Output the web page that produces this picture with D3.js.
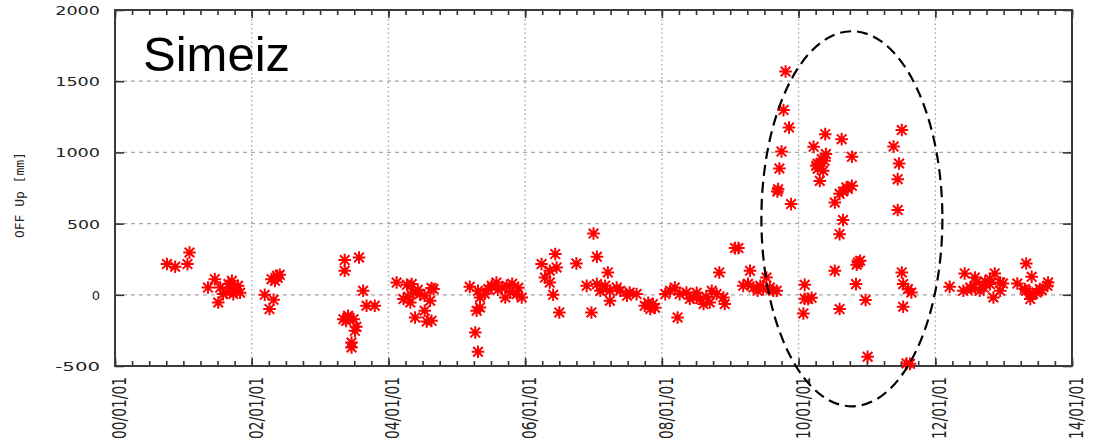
<!DOCTYPE html>
<html>
<head>
<meta charset="utf-8">
<script src="https://cdn.jsdelivr.net/npm/d3@7"></script>
<style>
  body { margin: 0; background: #fff; }
  svg { display: block; }
  .tick-label { font-family: "DejaVu Sans", sans-serif; fill: #222; }
</style>
</head>
<body>
<div class="viz"></div>
<script>
var margin = { top: 10, right: 23, bottom: 81, left: 115 },
    totalWidth = 1095,
    totalHeight = 447,
    width = totalWidth - margin.left - margin.right,
    height = totalHeight - margin.top - margin.bottom;

// epoch of each solution, in decimal years
const epochs = [
    2000.76, 2000.88, 2001.06, 2001.09, 2001.46, 2001.36, 2001.54, 2001.66, 2001.71, 2001.78,
    2001.63, 2001.73, 2001.58, 2001.80, 2001.51, 2001.71, 2001.83,
    2002.19, 2002.32, 2002.26, 2002.29, 2002.37, 2002.41, 2002.34, 2002.38,
    2003.36, 2003.36, 2003.57, 2003.63, 2003.68, 2003.80, 2003.41, 2003.49, 2003.34, 2003.51,
    2003.46, 2003.46, 2003.41, 2003.38, 2003.53,
    2004.12, 2004.27, 2004.34, 2004.22, 2004.32, 2004.36, 2004.46, 2004.53, 2004.63, 2004.61,
    2004.53, 2004.39, 2004.56, 2004.66, 2004.63, 2004.29, 2004.43,
    2005.19, 2005.31, 2005.46, 2005.34, 2005.34, 2005.29, 2005.58, 2005.66, 2005.73, 2005.78,
    2005.88, 2005.95, 2005.71, 2005.27, 2005.31, 2005.41, 2005.51, 2005.81, 2005.60, 2005.90,
    2006.24, 2006.44, 2006.46, 2006.36, 2006.29, 2006.36, 2006.41, 2006.50, 2006.75, 2007.00,
    2007.05, 2007.21, 2006.90, 2007.05, 2007.14, 2007.24, 2007.34, 2007.24, 2006.97, 2007.53,
    2007.49, 2007.63, 2007.17, 2007.39, 2007.10, 2007.75, 2007.83, 2007.87, 2007.80, 2007.90,
    2008.05, 2008.19, 2008.26, 2008.36, 2008.46, 2008.56, 2008.61, 2008.70, 2008.73, 2008.80,
    2008.90, 2008.92, 2008.84, 2008.23, 2008.12, 2008.41, 2008.65, 2008.51,
    2009.07, 2009.12, 2009.19, 2009.29, 2009.34, 2009.44, 2009.53, 2009.58, 2009.68, 2009.48,
    2009.63, 2009.26, 2009.40,
    2009.81, 2009.78, 2009.86, 2009.75, 2009.72, 2009.70, 2009.69, 2009.89,
    2010.09, 2010.14, 2010.07, 2010.09, 2010.19,
    2010.39, 2010.63, 2010.22, 2010.40, 2010.34, 2010.26, 2010.36, 2010.31, 2010.28, 2010.38,
    2010.28, 2010.78, 2010.70, 2010.65, 2010.78, 2010.72, 2010.60, 2010.53, 2010.65, 2010.60,
    2011.51, 2011.39, 2011.47, 2011.45, 2011.45,
    2010.53, 2010.87, 2010.90, 2010.85, 2010.84, 2010.98, 2010.60, 2011.01,
    2011.51, 2011.53, 2011.60, 2011.65, 2011.53, 2011.58, 2011.63,
    2012.21, 2012.43, 2012.41, 2012.51, 2012.58, 2012.65, 2012.60, 2012.73, 2012.80, 2012.87,
    2012.95, 2012.95, 2012.85, 2012.53, 2012.71, 2012.80, 2012.99,
    2013.20, 2013.33, 2013.41, 2013.31, 2013.39, 2013.48, 2013.56, 2013.65, 2013.39, 2013.43,
    2013.33, 2013.53, 2013.64,
];

// OFF Up [mm], same order as epochs
const offUp = [
    216, 197, 216, 297, 110, 51, 51, 75, 51, 28,
    16, 5, 5, 63, -54, 98, 14,
    0, -35, -100, 110, 133, 140, 98, 119,
    244, 169, 262, 28, -77, -77, -147, -171, -171, -253,
    -335, -370, -159, -183, -225,
    86, 70, 75, -30, -54, 16, 5, -7, 47, -42,
    -112, -159, -187, 40, -183, -14, 35,
    56, 28, 40, -19, -89, -112, 86, 51, 63, 16,
    5, -19, -19, -265, -400, 7, 63, 77, 35, 49,
    216, 286, 192, 169, 121, 86, 0, -124, 220, 430,
    267, 157, 63, 75, 40, 28, 51, -42, -124, 16,
    -7, 5, 63, 28, 28, -77, -100, -65, -56, -91,
    5, 51, 5, 16, -19, -30, -65, -54, 28, 5,
    -19, -65, 157, -159, 28, -28, -14, 14,
    328, 328, 63, 169, 51, 63, 121, 51, 28, 40,
    28, 77, 28,
    1568, 1297, 1175, 1006, 887, 742, 725, 637,
    70, -30, -131, -28, -21,
    1128, 1093, 1039, 988, 953, 906, 871, 800, 920, 941,
    885, 969, 753, 725, 765, 744, 709, 648, 525, 426,
    1157, 1041, 922, 812, 595,
    169, 227, 239, 211, 75, -37, -100, -435,
    157, 75, 40, 16, -84, -482, -485,
    56, 150, 28, 51, 121, 28, 86, 93, 110, 150,
    86, 28, -19, 40, 51, 75, 79,
    79, 220, 126, 40, 5, 16, 33, 86, -30, 5,
    28, 40, 63,
];

const xDomain = [2000, 2014];
const yDomain = [-500, 2000];
const xTickYears = [2000, 2002, 2004, 2006, 2008, 2010, 2012, 2014];
const xTickLabels = ["00/01/01", "02/01/01", "04/01/01", "06/01/01", "08/01/01", "10/01/01", "12/01/01", "14/01/01"];
const yTickValues = [-500, 0, 500, 1000, 1500, 2000];

// dashed ellipse around the anomaly (centre epoch, centre value, half widths)
const anomaly = { epoch: 2010.78, value: 534, halfYears: 1.324, halfMm: 1317 };

var x = d3.scaleLinear().domain(xDomain).range([0, width]);
var y = d3.scaleLinear().domain(yDomain).range([height, 0]);

var svg = d3
    .select(".viz")
    .append("svg")
    .attr("width", totalWidth)
    .attr("height", totalHeight);

var g = svg.append("g").attr("transform", `translate(${margin.left},${margin.top})`);

/**
 * Grid
 */
g.append("g")
    .selectAll("line")
    .data(yTickValues.slice(1, -1))
    .enter()
    .append("line")
    .attr("x1", 0)
    .attr("x2", width)
    .attr("y1", (d) => y(d))
    .attr("y2", (d) => y(d))
    .attr("stroke", "#a8a8a8")
    .attr("stroke-width", 1.2)
    .attr("stroke-dasharray", "4,4");

g.append("g")
    .selectAll("line")
    .data(xTickYears.slice(1, -1))
    .enter()
    .append("line")
    .attr("x1", (d) => x(d))
    .attr("x2", (d) => x(d))
    .attr("y1", 0)
    .attr("y2", height)
    .attr("stroke", "#a8a8a8")
    .attr("stroke-width", 1.4)
    .attr("stroke-dasharray", "1.5,3");

/**
 * Axes, ticks on all four sides
 */
var minorYears = d3.range(xDomain[0], xDomain[1] + 0.001, 0.25);

var bottom = d3.axisBottom(x).tickValues(minorYears).tickSize(-5).tickFormat("");
var top_ = d3.axisTop(x).tickValues(minorYears).tickSize(-5).tickFormat("");
g.append("g").attr("transform", `translate(0,${height})`).call(bottom);
g.append("g").call(top_);

var bottomMajor = d3.axisBottom(x).tickValues(xTickYears).tickSize(-8).tickFormat("");
var topMajor = d3.axisTop(x).tickValues(xTickYears).tickSize(-8).tickFormat("");
g.append("g").attr("transform", `translate(0,${height})`).call(bottomMajor);
g.append("g").call(topMajor);

var left = d3.axisLeft(y).tickValues(yTickValues).tickSize(-9).tickFormat("");
var right = d3.axisRight(y).tickValues(yTickValues).tickSize(-9).tickFormat("");
g.append("g").call(left);
g.append("g").attr("transform", `translate(${width},0)`).call(right);

g.selectAll(".domain").remove();
g.selectAll(".tick line").attr("stroke", "#333").attr("stroke-width", 1.6);

g.append("rect")
    .attr("width", width)
    .attr("height", height)
    .attr("fill", "none")
    .attr("stroke", "#3a3a3a")
    .attr("stroke-width", 2);

/**
 * Tick labels
 */
g.append("g")
    .selectAll("text")
    .data(yTickValues)
    .enter()
    .append("text")
    .attr("class", "tick-label")
    .attr("x", -15)
    .attr("y", (d) => y(d) + 5)
    .attr("text-anchor", "end")
    .style("font-size", "13px")
    .each(function (d) {
        var s = String(d);
        var t = d3.select(this).text(s);
        if (s.length > 1) t.attr("textLength", s.length * 11.7 - 2).attr("lengthAdjust", "spacingAndGlyphs");
    });

g.append("g")
    .selectAll("text")
    .data(xTickYears)
    .enter()
    .append("text")
    .attr("class", "tick-label")
    .attr("transform", (d) => `translate(${x(d) + 11},${height + 11}) rotate(-90)`)
    .attr("text-anchor", "end")
    .style("font-size", "20px")
    .attr("textLength", 62)
    .attr("lengthAdjust", "spacingAndGlyphs")
    .text((d, i) => xTickLabels[i]);

svg.append("text")
    .attr("transform", `translate(24,${margin.top + y(700)}) rotate(-90)`)
    .attr("text-anchor", "middle")
    .style("font-family", "DejaVu Sans Mono, monospace")
    .style("font-size", "12px")
    .attr("fill", "#222")
    .attr("textLength", 86)
    .attr("lengthAdjust", "spacingAndGlyphs")
    .text("OFF Up [mm]");

svg.append("text")
    .attr("x", 143)
    .attr("y", 71)
    .style("font-family", "Liberation Sans, Arial, sans-serif")
    .style("font-size", "49px")
    .attr("fill", "#000")
    .text("Simeiz");

/**
 * Points, gnuplot style asterisks
 */
var points = epochs.map((e, i) => ({ epoch: e, value: offUp[i] }));
var r = 6.3, rd = 4.8;
var star = `M${-r},0H${r}M0,${-r}V${r}M${-rd},${-rd}L${rd},${rd}M${-rd},${rd}L${rd},${-rd}`;

g.append("g")
    .attr("id", "points")
    .selectAll("path")
    .data(points)
    .enter()
    .append("path")
    .attr("transform", (d) => `translate(${x(d.epoch)},${y(d.value)})`)
    .attr("d", star)
    .attr("fill", "none")
    .attr("stroke", "#ff0000")
    .attr("stroke-width", 2);

/**
 * Anomaly ellipse
 */
g.append("ellipse")
    .attr("cx", x(anomaly.epoch))
    .attr("cy", y(anomaly.value))
    .attr("rx", x(xDomain[0] + anomaly.halfYears) - x(xDomain[0]))
    .attr("ry", y(0) - y(anomaly.halfMm))
    .attr("fill", "none")
    .attr("stroke", "#000")
    .attr("stroke-width", 2.2)
    .attr("stroke-dasharray", "11,6");
</script>
</body>
</html>
